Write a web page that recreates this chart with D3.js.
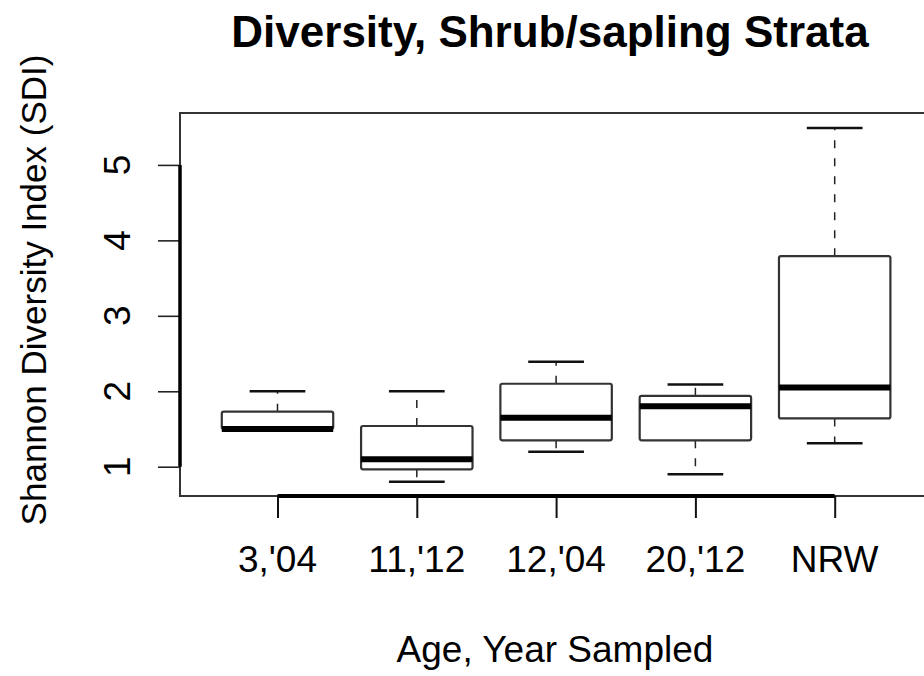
<!DOCTYPE html>
<html><head><meta charset="utf-8">
<script src="https://cdn.jsdelivr.net/npm/d3@7"></script>
<style>
html,body{margin:0;padding:0;background:#fff;}
svg text{font-family:"Liberation Sans",Arial,Helvetica,sans-serif;fill:#000;}
</style></head>
<body>
<svg id="chart" width="924" height="676"></svg>
<script>
const categories = ["3,'04", "11,'12", "12,'04", "20,'12", "NRW"];
const whiskerLow  = [1.50, 0.80, 1.20, 0.90, 1.31];
const q1Values    = [1.50, 0.965, 1.35, 1.35, 1.64];
const medians     = [1.50, 1.10, 1.65, 1.80, 2.05];
const q3Values    = [1.73, 1.54, 2.10, 1.94, 3.79];
const whiskerHigh = [2.00, 2.00, 2.39, 2.09, 5.49];
const yTicks = [1, 2, 3, 4, 5];
const titleText = "Diversity, Shrub/sapling Strata";
const xTitle = "Age, Year Sampled";
const yTitle = "Shannon Diversity Index (SDI)";

const svg = d3.select("#chart");
const L = 180, T = 113, B = 496, R = 932.2;

const x = d3.scaleLinear().domain([0.3, 5.7]).range([L, R]);
const y = d3.scaleLinear().domain([0.612, 5.688]).range([B, T]);
const boxW = x(1.8) - x(1.0);
const capW = x(1.4) - x(1.0);

// frame
svg.append("rect").attr("x", L).attr("y", T).attr("width", R - L).attr("height", B - T)
  .attr("fill", "none").attr("stroke", "#333").attr("stroke-width", 2);

const data = categories.map((c, i) => ({
  c, i: i + 1, lo: whiskerLow[i], q1: q1Values[i], med: medians[i], q3: q3Values[i], hi: whiskerHigh[i]
}));

const g = svg.append("g");
const bx = g.selectAll("g.box").data(data).join("g").attr("class", "box");
// whiskers
bx.append("line").attr("x1", d => x(d.i)).attr("x2", d => x(d.i))
  .attr("y1", d => y(d.q3)).attr("y2", d => y(d.hi))
  .attr("stroke", "#222").attr("stroke-width", 1.5).attr("stroke-dasharray", "8,10");
bx.append("line").attr("x1", d => x(d.i)).attr("x2", d => x(d.i))
  .attr("y1", d => y(d.q1)).attr("y2", d => y(d.lo))
  .attr("stroke", "#222").attr("stroke-width", 1.5).attr("stroke-dasharray", "8,10");
// caps
bx.append("line").attr("x1", d => x(d.i) - capW / 2).attr("x2", d => x(d.i) + capW / 2)
  .attr("y1", d => y(d.hi)).attr("y2", d => y(d.hi))
  .attr("stroke", "#111").attr("stroke-width", 2.5);
bx.filter(d => d.lo < d.q1).append("line").attr("x1", d => x(d.i) - capW / 2).attr("x2", d => x(d.i) + capW / 2)
  .attr("y1", d => y(d.lo)).attr("y2", d => y(d.lo))
  .attr("stroke", "#111").attr("stroke-width", 2.5);
// box
bx.append("rect").attr("x", d => x(d.i) - boxW / 2).attr("width", boxW)
  .attr("y", d => y(d.q3)).attr("height", d => y(d.q1) - y(d.q3))
  .attr("fill", "#fff").attr("stroke", "#333").attr("stroke-width", 2.2).attr("rx", 2);
// median
bx.append("line").attr("x1", d => x(d.i) - boxW / 2).attr("x2", d => x(d.i) + boxW / 2)
  .attr("y1", d => y(d.med)).attr("y2", d => y(d.med))
  .attr("stroke", "#000").attr("stroke-width", 6);

// x axis
const xa = svg.append("g").attr("transform", `translate(0,${B})`)
  .call(d3.axisBottom(x).tickValues(d3.range(1, categories.length + 1)).tickSize(22).tickPadding(0)
    .tickFormat(d => ""));
xa.select(".domain").remove();
xa.selectAll(".tick line").attr("stroke", "#111").attr("stroke-width", 2);
svg.append("line").attr("x1", x(1)).attr("x2", x(categories.length)).attr("y1", B).attr("y2", B)
  .attr("stroke", "#000").attr("stroke-width", 4);
svg.append("g").selectAll("text").data(categories).join("text")
  .attr("x", (d, i) => x(i + 1)).attr("y", 572).attr("text-anchor", "middle")
  .attr("font-size", 37).text(d => d);

// y axis
const ya = svg.append("g").attr("transform", `translate(${L},0)`)
  .call(d3.axisLeft(y).tickValues(yTicks).tickSize(22).tickFormat(() => ""));
ya.select(".domain").remove();
ya.selectAll(".tick line").attr("stroke", "#222").attr("stroke-width", 1.6);
svg.append("line").attr("x1", L).attr("x2", L).attr("y1", y(yTicks[0])).attr("y2", y(yTicks[yTicks.length - 1]))
  .attr("stroke", "#000").attr("stroke-width", 3.5);
svg.append("g").selectAll("text").data(yTicks).join("text")
  .attr("transform", d => `translate(130,${y(d)}) rotate(-90)`)
  .attr("text-anchor", "middle").attr("font-size", 37).text(d => d);

// titles
svg.append("text").attr("x", 550).attr("y", 47).attr("text-anchor", "middle")
  .attr("font-size", 44).attr("font-weight", "bold").text(titleText);
svg.append("text").attr("x", 555).attr("y", 662).attr("text-anchor", "middle")
  .attr("font-size", 37).text(xTitle);
svg.append("text").attr("transform", "translate(46,290) rotate(-90)").attr("text-anchor", "middle")
  .attr("font-size", 35).text(yTitle);
</script>
</body></html>
